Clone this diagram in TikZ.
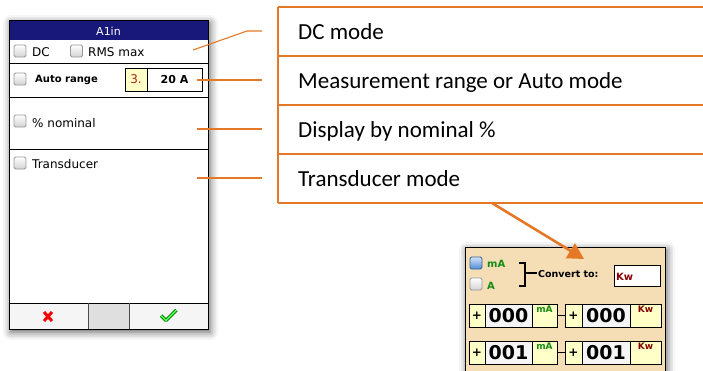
\documentclass[tikz,border=0pt]{standalone}
\usepackage{fontspec}
\setmainfont{Carlito}
\newfontfamily\lcd{DejaVu Sans}
\usetikzlibrary{arrows.meta,shadows.blur}
\definecolor{callout}{RGB}{229,120,38}
\definecolor{titlebar}{RGB}{24,24,122}
\definecolor{panelbg}{RGB}{245,222,181}
\definecolor{fieldyellow}{RGB}{255,255,200}
\definecolor{fieldgrey}{RGB}{245,245,245}
\definecolor{unitgreen}{RGB}{20,140,20}
\definecolor{unitred}{RGB}{135,0,0}
\definecolor{rangered}{RGB}{175,30,30}
\definecolor{chkblue}{RGB}{80,140,215}
\tikzset{
  lcdtext/.style={font=\lcd\fontsize{12}{14}\selectfont, inner sep=0pt, anchor=base west},
  lcdbold/.style={font=\lcd\bfseries\fontsize{10}{12}\selectfont, inner sep=0pt, anchor=base west},
  chkbox/.style={draw=gray!80, line width=0.8pt, rounded corners=1.5pt, minimum size=12pt, inner sep=0pt, top color=white, bottom color=gray!35},
  chkon/.style={chkbox, draw=chkblue!70!black, top color=chkblue!25, bottom color=chkblue},
  leader/.style={draw=callout, line width=1.1pt},
  rowtext/.style={font=\fontsize{23}{27}\selectfont, inner sep=0pt, anchor=base west},
  cell/.style={draw, line width=0.9pt, minimum height=23pt, inner sep=0pt},
  signcell/.style={cell, fill=fieldyellow, font=\lcd\bfseries\fontsize{12}{12}\selectfont},
  valcell/.style={cell, fill=fieldgrey, font=\lcd\bfseries\fontsize{19}{20}\selectfont},
  unitcell/.style={cell, fill=fieldyellow},
  unitma/.style={font=\lcd\bfseries\fontsize{9}{10}\selectfont, text=unitgreen, inner sep=2pt, anchor=north},
  unitkw/.style={font=\lcd\bfseries\fontsize{9}{10}\selectfont, text=unitred, inner sep=2pt, anchor=north},
  softshadow/.style={blur shadow={shadow xshift=2pt, shadow yshift=-3pt, shadow blur radius=8pt, shadow opacity=65}}
}

\begin{document}
\begin{tikzpicture}[x=1pt,y=-1pt]
    \useasboundingbox (0,0) rectangle (703,370);

    % Instrument screen
    \draw[fill=white, line width=1pt, softshadow] (9,20) rectangle (208,329);
    \fill[titlebar] (9,20) rectangle (208,40);
    \node[font=\lcd\fontsize{11}{12}\selectfont, text=white, inner sep=0pt, anchor=base] (title) at (108.5,35) {A1in};
    \fill[fieldgrey] (9,303) rectangle (208,329);
    \fill[gray!25] (88,303) rectangle (129,329);
    \draw[line width=0.8pt] (9,63) -- (208,63);
    \draw[line width=0.8pt] (9,97) -- (208,97);
    \draw[line width=0.8pt] (9,149) -- (208,149);
    \draw[line width=0.8pt] (9,303) -- (208,303);
    \draw[gray!60!black, line width=1pt] (88,303) -- (88,329);
    \draw[gray!60!black, line width=1pt] (129,303) -- (129,329);
    \draw[line width=1pt] (9,20) rectangle (208,329);

    \node[chkbox] (cbdc) at (20,51) {};
    \node[lcdtext] (dc) at (32,56) {DC};
    \node[chkbox] (cbrms) at (76.5,51) {};
    \node[lcdtext] (rms) at (88,56) {RMS max};
    \node[chkbox] (cbauto) at (20,79) {};
    \node[lcdbold] (auto) at (35,82.5) {Auto range};
    \node[cell, fill=fieldyellow, line width=0.8pt, minimum width=22pt, minimum height=23pt, text=rangered, font=\lcd\fontsize{12}{14}\selectfont] (rngidx) at (136,79.5) {3.};
    \node[cell, fill=white, line width=0.8pt, minimum width=55pt, minimum height=23pt, font=\lcd\bfseries\fontsize{11}{14}\selectfont] (rngval) at (174.5,79.5) {20 A};
    \node[chkbox] (cbnom) at (20,121) {};
    \node[lcdtext] (nom) at (32,127.5) {\% nominal};
    \node[chkbox] (cbtr) at (20,163) {};
    \node[lcdtext] (trans) at (32,168.3) {Transducer};

    % footer buttons
    \draw[red, line width=3pt] (44,312) -- (52,321) (52,312) -- (44,321);
    \draw[green!45!black, line width=3.4pt, line join=round] (161,315.5) -- (166,320.5) -- (176.5,310);
    \draw[green!70!white, line width=1.6pt, line join=round] (161,315.5) -- (166,320.5) -- (176.5,310);

    % Callout table
    \draw[callout, line width=1.4pt] (278,7) -- (278,203);
    \foreach \y in {7,56,105,154,203}
        \draw[callout, line width=1.4pt] (278,\y) -- (703,\y);
    \node[rowtext] (rowdc) at (298,39.5) {DC mode};
    \node[rowtext] (rowrange) at (298,88.5) {Measurement range or Auto mode};
    \node[rowtext] (rownom) at (298,137.5) {Display by nominal \%};
    \node[rowtext] (rowtrans) at (298,186) {Transducer mode};

    % Leader lines
    \coordinate (ptdc) at (193,50);
    \coordinate (kneedc) at (247,31);
    \coordinate (enddc) at (262,31);
    \coordinate (ptrange) at (197,80);
    \coordinate (endrange) at (262,80);
    \coordinate (ptnom) at (197,129);
    \coordinate (endnom) at (262,129);
    \coordinate (pttrans) at (197,178);
    \coordinate (endtrans) at (262,178);
    \draw[leader] (ptdc) -- (kneedc) -- (enddc);
    \draw[leader] (ptrange) -- (endrange);
    \draw[leader] (ptnom) -- (endnom);
    \draw[leader] (pttrans) -- (endtrans);

    % Transducer panel
    \draw[fill=panelbg, line width=1pt, softshadow] (465,247) rectangle (665,390);
    \node[chkon] (cbma) at (476,263) {};
    \node[font=\lcd\bfseries\fontsize{10}{12}\selectfont, text=unitgreen, inner sep=0pt, anchor=base west] (ma) at (487,267) {mA};
    \node[chkbox] (cba) at (476,284) {};
    \node[font=\lcd\bfseries\fontsize{10}{12}\selectfont, text=unitgreen, inner sep=0pt, anchor=base west] (amp) at (487,289) {A};
    \draw[line width=1.3pt] (519,263) -- (525,263) -- (525,286) -- (519,286);
    \draw[line width=1.3pt] (525,273) -- (537,273);
    \node[font=\lcd\bfseries\fontsize{9.5}{12}\selectfont, inner sep=0pt, anchor=base west] (conv) at (538,277) {Convert to:};
    \node[cell, fill=white, minimum width=46pt, minimum height=21pt] (kwbox) at (637,275.5) {};
    \node[font=\lcd\bfseries\fontsize{10}{12}\selectfont, text=unitred, inner sep=0pt, anchor=base west] (kw) at (616,280) {Kw};

    % input/output rows
    \foreach \r/\v/\yc in {1/000/315.5, 2/001/352.5} {
        \node[signcell, minimum width=16pt] (sin\r) at (477,\yc) {+};
        \node[valcell, minimum width=47pt] (vin\r) at (508.5,\yc) {\v};
        \node[unitcell, minimum width=25pt] (uin\r) at (544.5,\yc) {};
        \node[unitma] at (uin\r.north) {mA};
        \node[signcell, minimum width=17pt] (sout\r) at (573.5,\yc) {+};
        \node[valcell, minimum width=48pt] (vout\r) at (606,\yc) {\v};
        \node[unitcell, minimum width=31pt] (uout\r) at (645.5,\yc) {};
        \node[unitkw] at (uout\r.north) {Kw};
        \draw[line width=1.3pt] (uin\r) -- (sout\r);
    }

    % pointer to panel
    \coordinate (arrfrom) at (492,203);
    \coordinate (arrto) at (584,259);
    \draw[callout, line width=2.6pt, -{Triangle[length=16pt,width=17pt]}] (arrfrom) -- (arrto);
\end{tikzpicture}
\end{document}
